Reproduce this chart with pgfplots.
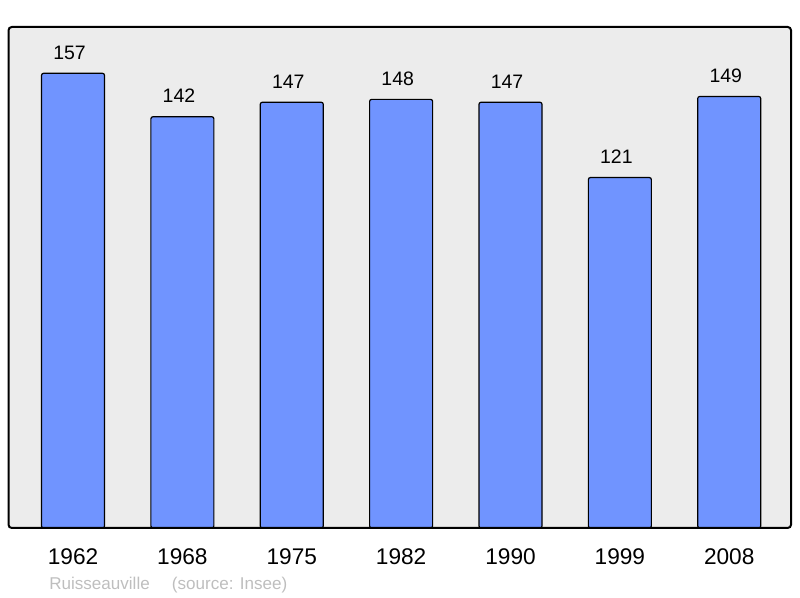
\documentclass[border=0pt]{standalone}
\usepackage{pgfplots}
\pgfplotsset{compat=1.18}
\usepackage{fontspec}
\setmainfont{Liberation Sans}
\definecolor{barblue}{RGB}{112,148,255}
\definecolor{plotbg}{RGB}{236,236,236}
\definecolor{srcgrey}{RGB}{190,190,190}
\begin{document}
\begin{tikzpicture}
\useasboundingbox (0,0) rectangle (600pt,448.5pt);
\begin{axis}[
    name=pop,
    at={(6.375pt,52.5pt)}, anchor=south west,
    scale only axis, width=586.9pt, height=375.75pt,
    xmin=-0.59, xmax=6.565,
    ymin=0, ymax=173,
    axis line style={draw=none},
    axis background/.style={fill=plotbg},
    xtick=data,
    xticklabels={1962,1968,1975,1982,1990,1999,2008},
    ytick=\empty,
    major tick length=0pt,
    xticklabel style={anchor=base, yshift=-27.75pt,
        font=\fontsize{17}{20}\selectfont},
    ybar, bar width=47.25pt,
    /pgf/number format/assume math mode=true,
    nodes near coords,
    every node near coord/.append style={anchor=base, yshift=10.5pt,
        xshift=-2.6pt, font=\fontsize{14.6}{17}\selectfont},
]
\addplot[fill=barblue, draw=black, line width=0.9pt, rounded corners=1.5pt]
    coordinates {(0,157) (1,142) (2,147) (3,148) (4,147) (5,121) (6,149)};
\end{axis}
\draw[line width=1.5pt, rounded corners=2.5pt]
    (pop.south west) rectangle (pop.north east);
\node[anchor=base west, inner sep=0pt, text=srcgrey,
    font=\fontsize{12.8}{15}\selectfont] at (36.75pt,6pt)
    {Ruisseauville\hspace{1.3em}(source: Insee)};
\end{tikzpicture}
\end{document}
